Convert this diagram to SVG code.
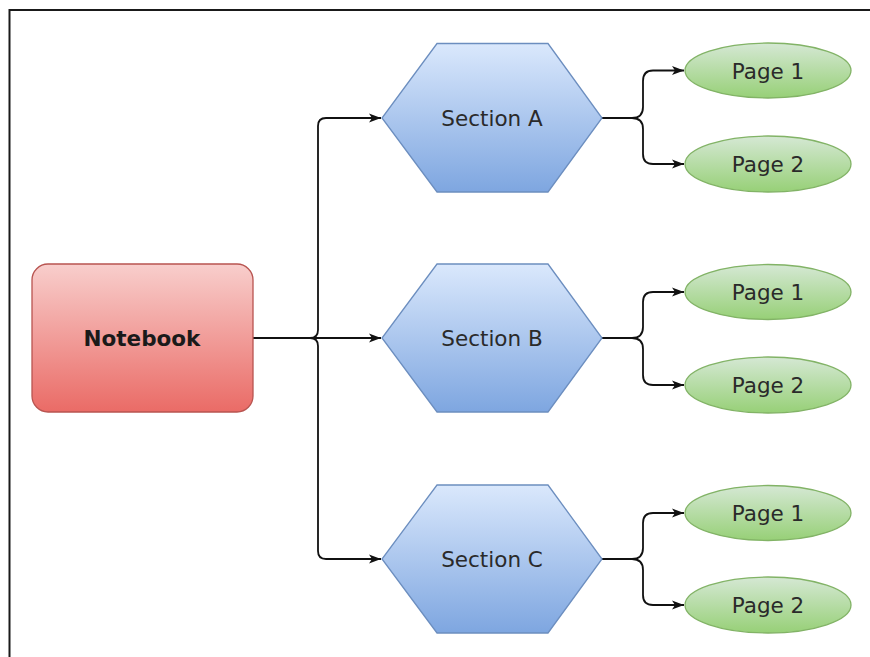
<svg xmlns="http://www.w3.org/2000/svg" width="870" height="657" viewBox="0 0 870 657">
<defs>
<linearGradient id="gRed" x1="0" y1="0" x2="0" y2="1"><stop offset="0" stop-color="#f8cecc"/><stop offset="1" stop-color="#ea6b66"/></linearGradient>
<linearGradient id="gBlue" x1="0" y1="0" x2="0" y2="1"><stop offset="0" stop-color="#dae8fc"/><stop offset="1" stop-color="#7ea6e0"/></linearGradient>
<linearGradient id="gGreen" x1="0" y1="0" x2="0" y2="1"><stop offset="0" stop-color="#d5e8d4"/><stop offset="1" stop-color="#97d077"/></linearGradient>
<marker id="arr" markerUnits="userSpaceOnUse" markerWidth="13" markerHeight="11" refX="12" refY="5" orient="auto"><path d="M0,0.5 L12,5 L0,9.5 L3,5 z" fill="#111"/></marker>
</defs>
<style>
.frame{fill:none;stroke:#1a1a1a;stroke-width:2}
.hex{fill:url(#gBlue);stroke:#6c8ebf;stroke-width:1.3}
.page{fill:url(#gGreen);stroke:#82b366;stroke-width:1.3}
.nb{fill:url(#gRed);stroke:#b85450;stroke-width:1.3}
.t{font-family:"DejaVu Sans",Verdana,sans-serif;font-size:21.5px;fill:#2a2a2a;text-anchor:middle}
.tb{font-family:"DejaVu Sans",Verdana,sans-serif;font-size:21.5px;font-weight:bold;fill:#1a1a1a;text-anchor:middle}
.c{fill:none;stroke:#111;stroke-width:1.8;marker-end:url(#arr)}
</style>
<rect width="870" height="657" fill="#fff"/>
<path class="frame" d="M9.5,657 V10 H870"/>
<g id="connectors">
<path class="c" d="M253,338 H310 Q318,338 318,330 V126 Q318,118 326,118 H381"/>
<path class="c" d="M253,338 H381"/>
<path class="c" d="M253,338 H310 Q318,338 318,346 V551 Q318,559 326,559 H381"/>
<path class="c" d="M602,118 H632 Q643,118 643,107 V81 Q643,70.5 653,70.5 H684"/>
<path class="c" d="M602,118 H632 Q643,118 643,129 V154 Q643,164 653,164 H684"/>
<path class="c" d="M602,338 H632 Q643,338 643,327 V302 Q643,292 653,292 H684"/>
<path class="c" d="M602,338 H632 Q643,338 643,349 V375 Q643,385 653,385 H684"/>
<path class="c" d="M602,559 H632 Q643,559 643,548 V523 Q643,513 653,513 H684"/>
<path class="c" d="M602,559 H632 Q643,559 643,570 V595 Q643,605 653,605 H684"/>
</g>
<g id="notebook"><rect class="nb" x="32" y="264" width="221" height="148" rx="16"/><text class="tb" x="142" y="346">Notebook</text></g>
<g id="sectionA"><polygon class="hex" points="437,43.5 548,43.5 602,118 548,192 437,192 382,118"/><text class="t" x="492" y="125.5">Section A</text></g>
<g id="sectionB"><polygon class="hex" points="437,264 548,264 602,338 548,412 437,412 382,338"/><text class="t" x="492" y="345.5">Section B</text></g>
<g id="sectionC"><polygon class="hex" points="437,485 548,485 602,559 548,633 437,633 382,559"/><text class="t" x="492" y="566.5">Section C</text></g>
<g id="pageA1"><ellipse class="page" cx="768" cy="70.5" rx="83" ry="27.5"/><text class="t" x="768" y="78.5">Page 1</text></g>
<g id="pageA2"><ellipse class="page" cx="768" cy="164" rx="83" ry="28"/><text class="t" x="768" y="172">Page 2</text></g>
<g id="pageB1"><ellipse class="page" cx="768" cy="292" rx="83" ry="27.5"/><text class="t" x="768" y="300">Page 1</text></g>
<g id="pageB2"><ellipse class="page" cx="768" cy="385" rx="83" ry="28"/><text class="t" x="768" y="393">Page 2</text></g>
<g id="pageC1"><ellipse class="page" cx="768" cy="513" rx="83" ry="27.5"/><text class="t" x="768" y="521">Page 1</text></g>
<g id="pageC2"><ellipse class="page" cx="768" cy="605" rx="83" ry="28"/><text class="t" x="768" y="613">Page 2</text></g>
</svg>
